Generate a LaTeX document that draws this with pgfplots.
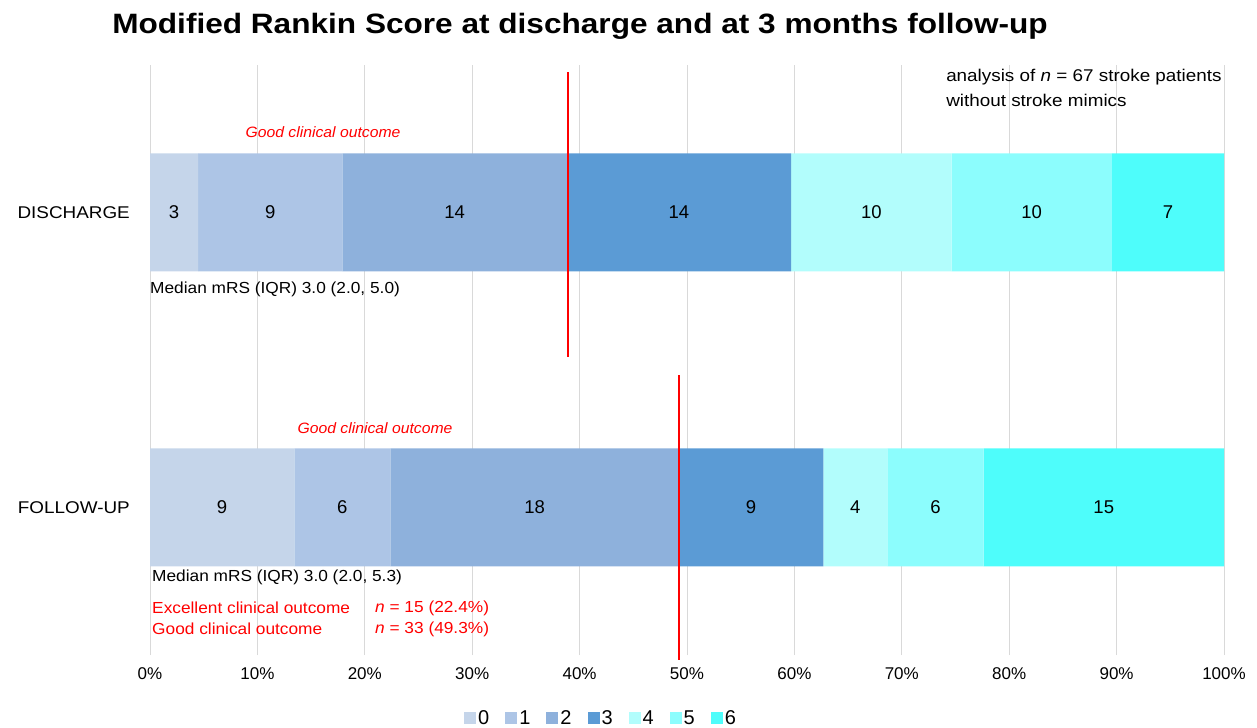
\documentclass[border=0pt]{standalone}
\usepackage{pgfplots}
\pgfplotsset{compat=1.18}
\usepackage{fontspec}
\setmainfont{Liberation Sans}
\newfontfamily\wideT{Liberation Sans}[FakeStretch=1.128]
\newfontfamily\wideY{Liberation Sans}[FakeStretch=1.11]
\newfontfamily\wideM{Liberation Sans}[FakeStretch=1.08]
\newfontfamily\wideG{Liberation Sans}[FakeStretch=1.05]
\definecolor{c0}{HTML}{C5D5EA}
\definecolor{c1}{HTML}{ADC5E6}
\definecolor{c2}{HTML}{8EB1DC}
\definecolor{c3}{HTML}{5B9BD5}
\definecolor{c4}{HTML}{B2FDFC}
\definecolor{c5}{HTML}{8CFDFD}
\definecolor{c6}{HTML}{4EFDFB}
\definecolor{gridc}{HTML}{D9D9D9}
\pgfplotstableread{
x y lab
2.239 1 3
11.194 1 9
28.358 1 14
49.254 1 14
67.164 1 10
82.090 1 10
94.776 1 7
6.716 0 9
17.910 0 6
35.821 0 18
55.970 0 9
65.672 0 4
73.134 0 6
88.806 0 15
}\labels
\begin{document}
\begin{tikzpicture}
\pgfplotsset{common/.style={
  scale only axis, width=1074bp, height=590bp,
  at={(150bp,73bp)}, anchor=south west,
  xmin=0, xmax=100, ymin=-0.5, ymax=1.5,
}}
\begin{axis}[common,
  xbar stacked, bar width=118bp,
  axis line style={draw=none}, tick style={draw=none},
  xmajorgrids, grid style={gridc, line width=1bp},
  xtick={0,10,...,100},
  xticklabel={\pgfmathprintnumber{\tick}\%},
  xticklabel style={font=\fontsize{17bp}{20bp}\selectfont, inner sep=0pt, yshift=-12bp},
  ytick={0,1}, yticklabels={FOLLOW-UP,DISCHARGE},
  yticklabel style={font=\fontsize{17bp}{20bp}\wideY, inner sep=0pt, xshift=-20bp},
  /pgf/number format/assume math mode=true,
  legend style={at={(0.42,-0.107)}, anchor=center, draw=none, fill=none,
    font=\fontsize{20bp}{22bp}\selectfont, legend columns=-1,
    /tikz/every even column/.append style={column sep=14bp}},
  legend image code/.code={\fill[#1] (0bp,-6bp) rectangle (12bp,6bp);},
]
\addplot[fill=c0, draw=none] coordinates {(4.478,1) (13.433,0)};
\addplot[fill=c1, draw=none] coordinates {(13.433,1) (8.955,0)};
\addplot[fill=c2, draw=none] coordinates {(20.896,1) (26.866,0)};
\addplot[fill=c3, draw=none] coordinates {(20.896,1) (13.433,0)};
\addplot[fill=c4, draw=none] coordinates {(14.925,1) (5.970,0)};
\addplot[fill=c5, draw=none] coordinates {(14.925,1) (8.955,0)};
\addplot[fill=c6, draw=none] coordinates {(10.448,1) (22.388,0)};
\legend{0,1,2,3,4,5,6}
\end{axis}
\begin{axis}[common, hide axis, clip=false]
\addplot[draw=none, mark=none, nodes near coords, point meta=explicit symbolic,
  every node near coord/.append style={anchor=center, font=\fontsize{18.5bp}{20bp}\selectfont}]
  table[x=x, y=y, meta=lab] {\labels};
\addplot[red, line width=2bp] coordinates {(38.95,1.476) (38.95,0.510)};
\addplot[red, line width=2bp] coordinates {(49.25,0.449) (49.25,-0.517)};
\begin{scope}[every node/.style={inner sep=0pt}]
\node[red, font=\fontsize{15bp}{17bp}\wideG\itshape] at (axis cs:16.11,1.273) {Good clinical outcome};
\node[red, font=\fontsize{15bp}{17bp}\wideG\itshape] at (axis cs:20.95,0.2695) {Good clinical outcome};
\node[anchor=west, font=\fontsize{16bp}{18bp}\wideM] at (axis cs:0,0.7407) {Median mRS (IQR) 3.0 (2.0, 5.0)};
\node[anchor=west, font=\fontsize{16bp}{18bp}\wideM] at (axis cs:0.19,-0.2356) {Median mRS (IQR) 3.0 (2.0, 5.3)};
\node[anchor=west, red, font=\fontsize{16bp}{18bp}\wideM] at (axis cs:0.19,-0.3407) {Excellent clinical outcome};
\node[anchor=west, red, font=\fontsize{16bp}{18bp}\wideM] at (axis cs:0.19,-0.4119) {Good clinical outcome};
\node[anchor=west, red, font=\fontsize{16bp}{18bp}\wideM] at (axis cs:20.95,-0.3407) {\textit{n} = 15 (22.4\%)};
\node[anchor=west, red, font=\fontsize{16bp}{18bp}\wideM] at (axis cs:20.95,-0.4119) {\textit{n} = 33 (49.3\%)};
\node[anchor=west, font=\fontsize{17bp}{19bp}\wideY] at (axis cs:74.12,1.4593) {analysis of \textit{n} = 67 stroke patients};
\node[anchor=west, font=\fontsize{17bp}{19bp}\wideY] at (axis cs:74.12,1.3814) {without stroke mimics};
\end{scope}
\end{axis}
\node[font=\fontsize{28bp}{32bp}\wideT\bfseries] at (580bp,702bp) {Modified Rankin Score at discharge and at 3 months follow-up};
\pgfresetboundingbox
\path (0,0) rectangle (1257bp,728bp);
\end{tikzpicture}
\end{document}
